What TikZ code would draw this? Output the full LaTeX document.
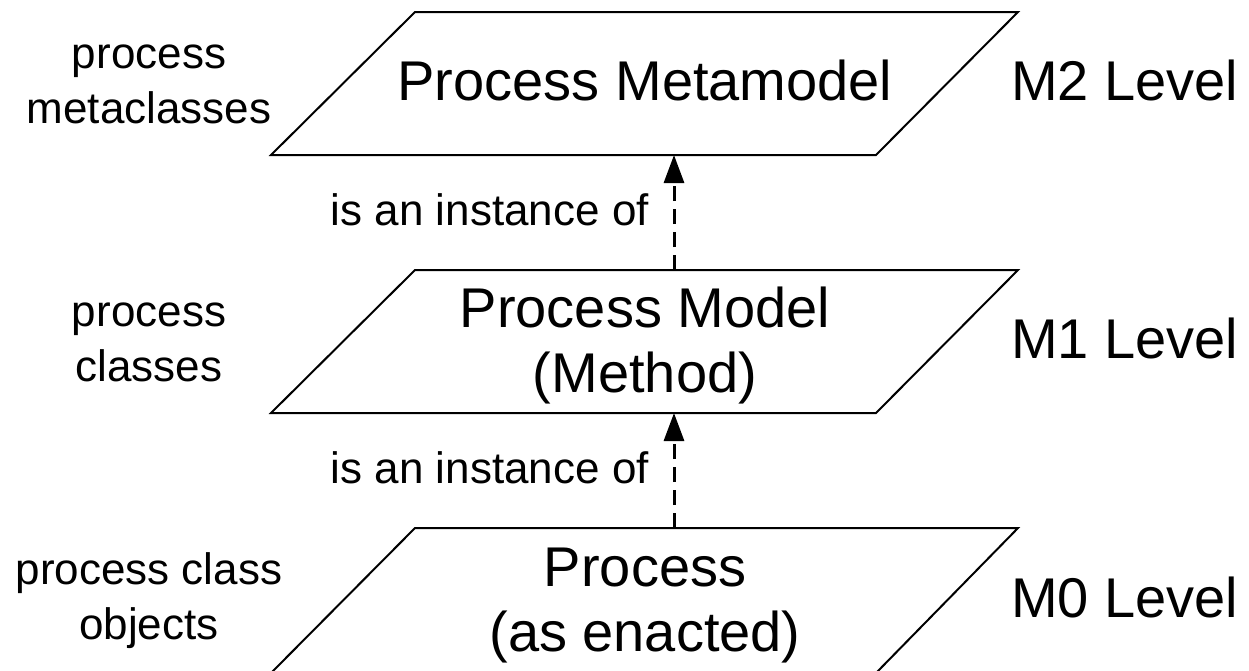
\documentclass[tikz,border=0pt]{standalone}
\usepackage{fontspec}
\setmainfont{Liberation Sans}
\usetikzlibrary{arrows.meta}
\tikzset{
  plane/.style={draw=black, line width=2pt, line join=miter},
  bigtxt/.style={font=\fontsize{56}{65}\selectfont, inner sep=0pt, anchor=base},
  sidetxt/.style={font=\fontsize{44}{55}\selectfont, inner sep=0pt, anchor=base},
  lvltxt/.style={font=\fontsize{56}{65}\selectfont, inner sep=0pt, anchor=base west},
  reltxt/.style={font=\fontsize{44}{55}\selectfont, inner sep=0pt, anchor=base east},
  instarrow/.style={line width=3pt, dash pattern=on 15pt off 8pt, -{Triangle[length=28pt,width=20pt]}}
}
\begin{document}
\begin{tikzpicture}[x=1pt,y=-1pt]
\useasboundingbox (0,0) rectangle (1249,670);
\clip (0,0) rectangle (1249,670);

% planes
\draw[plane] (271,155) -- (876,155) -- (1018,12) -- (415,12) -- cycle;
\draw[plane] (271,413) -- (876,413) -- (1018,270) -- (415,270) -- cycle;
\draw[plane] (271,673) -- (876,673) -- (1018,528) -- (415,528) -- cycle;

% connector end points on the plane edges
\coordinate (m2bot) at (674,155);
\coordinate (m1top) at (674,270);
\coordinate (m1bot) at (674,413);
\coordinate (m0top) at (674,528);

% plane texts
\node[bigtxt] (m2a) at (645,100) {Process Metamodel};
\node[bigtxt] (m1a) at (645,327) {Process Model};
\node[bigtxt] (m1b) at (645,392) {(Method)};
\node[bigtxt] (m0a) at (645,586) {Process};
\node[bigtxt] (m0b) at (645,651) {(as enacted)};

% left labels
\node[sidetxt] (l2a) at (149,68) {process};
\node[sidetxt] (l2b) at (149,123) {metaclasses};
\node[sidetxt] (l1a) at (149,326) {process};
\node[sidetxt] (l1b) at (149,381) {classes};
\node[sidetxt] (l0a) at (149,584) {process class};
\node[sidetxt] (l0b) at (149,639) {objects};

% right labels
\node[lvltxt] (r2) at (1011,100) {M2 Level};
\node[lvltxt] (r1) at (1011,358) {M1 Level};
\node[lvltxt] (r0) at (1011,617) {M0 Level};

% arrows
\draw[instarrow] (m1top) -- (m2bot);
\draw[instarrow] (m0top) -- (m1bot);
\node[reltxt] (i1) at (649,225) {is an instance of};
\node[reltxt] (i0) at (649,483) {is an instance of};
\end{tikzpicture}
\end{document}
